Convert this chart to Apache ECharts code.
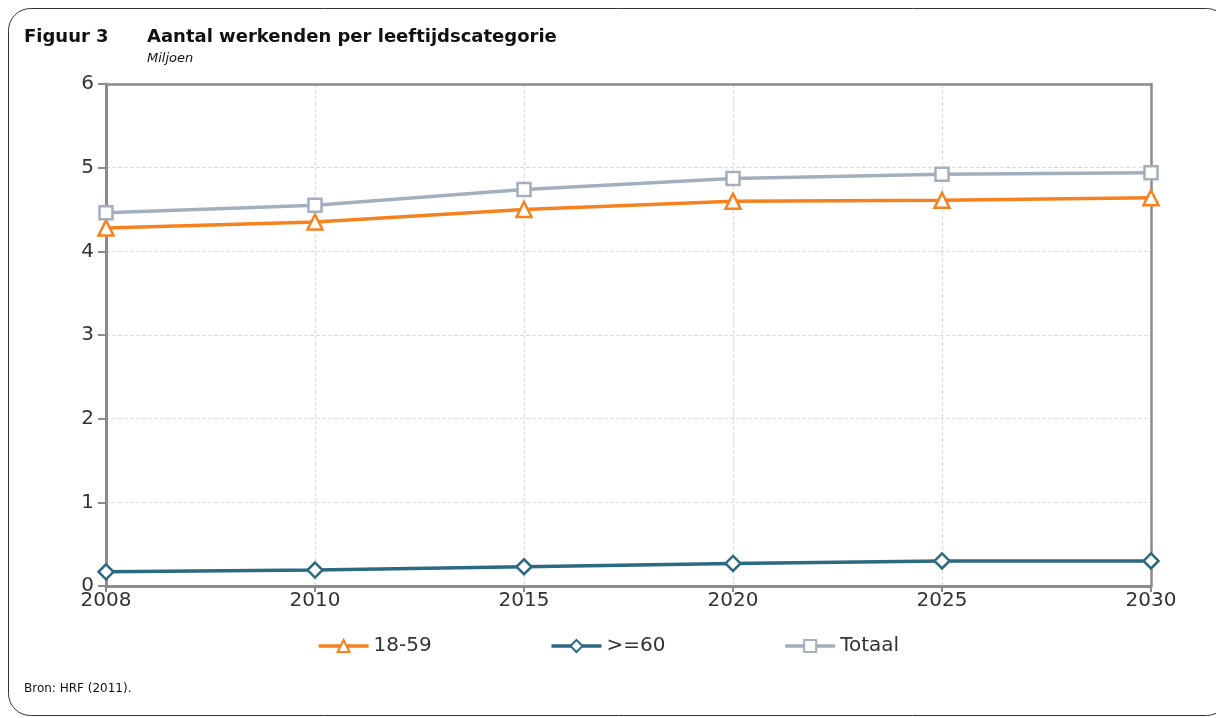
<!DOCTYPE html>
<html><head><meta charset="utf-8">
<script src="https://cdn.jsdelivr.net/npm/echarts@6/dist/echarts.min.js"></script>
<style>html,body{margin:0;padding:0;background:#fff}#c{width:1216px;height:718px}</style>
</head><body><div id="c"></div>
<script>
const years = ['2008','2010','2015','2020','2025','2030'];
const s1859 = [4.28, 4.35, 4.50, 4.60, 4.61, 4.64];
const s60 = [0.17, 0.19, 0.23, 0.27, 0.30, 0.30];
const totaal = [4.46, 4.55, 4.74, 4.87, 4.92, 4.94];
const yTicks = [0, 1, 2, 3, 4, 5, 6];

const FONT = 'DejaVu Sans';
const chart = echarts.init(document.getElementById('c'));
function ser(name, data, color, symbol, size) {
  return {
    name, type: 'line', data, symbol, symbolSize: size,
    lineStyle: { color, width: 3.5 },
    itemStyle: { color: '#fff', borderColor: color, borderWidth: 2.5 },
    emphasis: { disabled: true }, z: 3
  };
}
const gray = '#8c8c8c';
chart.setOption({
  animation: false,
  textStyle: { fontFamily: FONT },
  graphic: [
    { type: 'rect', shape: { x: 8.5, y: 8.5, width: 1220, height: 707, r: 22 }, style: { fill: 'none', stroke: '#333', lineWidth: 1 }, silent: true },
    { type: 'text', left: 24, top: 28, style: { text: 'Figuur 3', font: 'bold 18px ' + FONT, fill: '#111' } },
    { type: 'text', left: 147, top: 28, style: { text: 'Aantal werkenden per leeftijdscategorie', font: 'bold 18px ' + FONT, fill: '#111' } },
    { type: 'text', left: 147, top: 52, style: { text: 'Miljoen', font: 'italic 13px ' + FONT, fill: '#111' } },
    { type: 'text', left: 24, top: 683, style: { text: 'Bron: HRF (2011).', font: '12px ' + FONT, fill: '#111' } }
  ],
  grid: { left: 106, right: 65, top: 84, bottom: 132 },
  legend: {
    bottom: 57, left: 'center', itemGap: 118, itemWidth: 50, itemHeight: 15,
    textStyle: { fontSize: 20, color: '#333', fontFamily: FONT },
    lineStyle: { width: 3.5 },
    data: ['18-59', '>=60', 'Totaal']
  },
  xAxis: [{
    type: 'category', data: years, boundaryGap: false,
    axisLine: { lineStyle: { color: gray, width: 3 } },
    axisTick: { show: true, length: 6, lineStyle: { color: gray, width: 2 } },
    axisLabel: { fontSize: 20, color: '#333', margin: 5 },
    splitLine: { show: true, lineStyle: { color: '#dcdcdc', type: 'dashed', width: 1 } }
  }, {
    type: 'category', data: years, boundaryGap: false, position: 'top',
    axisLine: { show: true, onZero: false, lineStyle: { color: gray, width: 2.5 } },
    axisTick: { show: false }, axisLabel: { show: false }, splitLine: { show: false }
  }],
  yAxis: [{
    type: 'value', min: 0, max: 6, interval: 1,
    axisLine: { show: true, lineStyle: { color: gray, width: 3 } },
    axisTick: { show: true, length: 8, lineStyle: { color: gray, width: 2 } },
    axisLabel: { fontSize: 20, color: '#333', margin: 12, formatter: v => yTicks.includes(v) ? String(v) : '' },
    splitLine: { show: true, lineStyle: { color: '#dcdcdc', type: 'dashed', width: 1 } }
  }, {
    type: 'value', min: 0, max: 6, interval: 1, position: 'right',
    axisLine: { show: true, onZero: false, lineStyle: { color: gray, width: 2.5 } },
    axisTick: { show: false }, axisLabel: { show: false }, splitLine: { show: false }
  }],
  series: [
    ser('18-59', s1859, '#F5821F', 'triangle', 15),
    ser('>=60', s60, '#2B6A80', 'diamond', 15),
    ser('Totaal', totaal, '#A3AFBD', 'rect', 13)
  ]
});
</script></body></html>
